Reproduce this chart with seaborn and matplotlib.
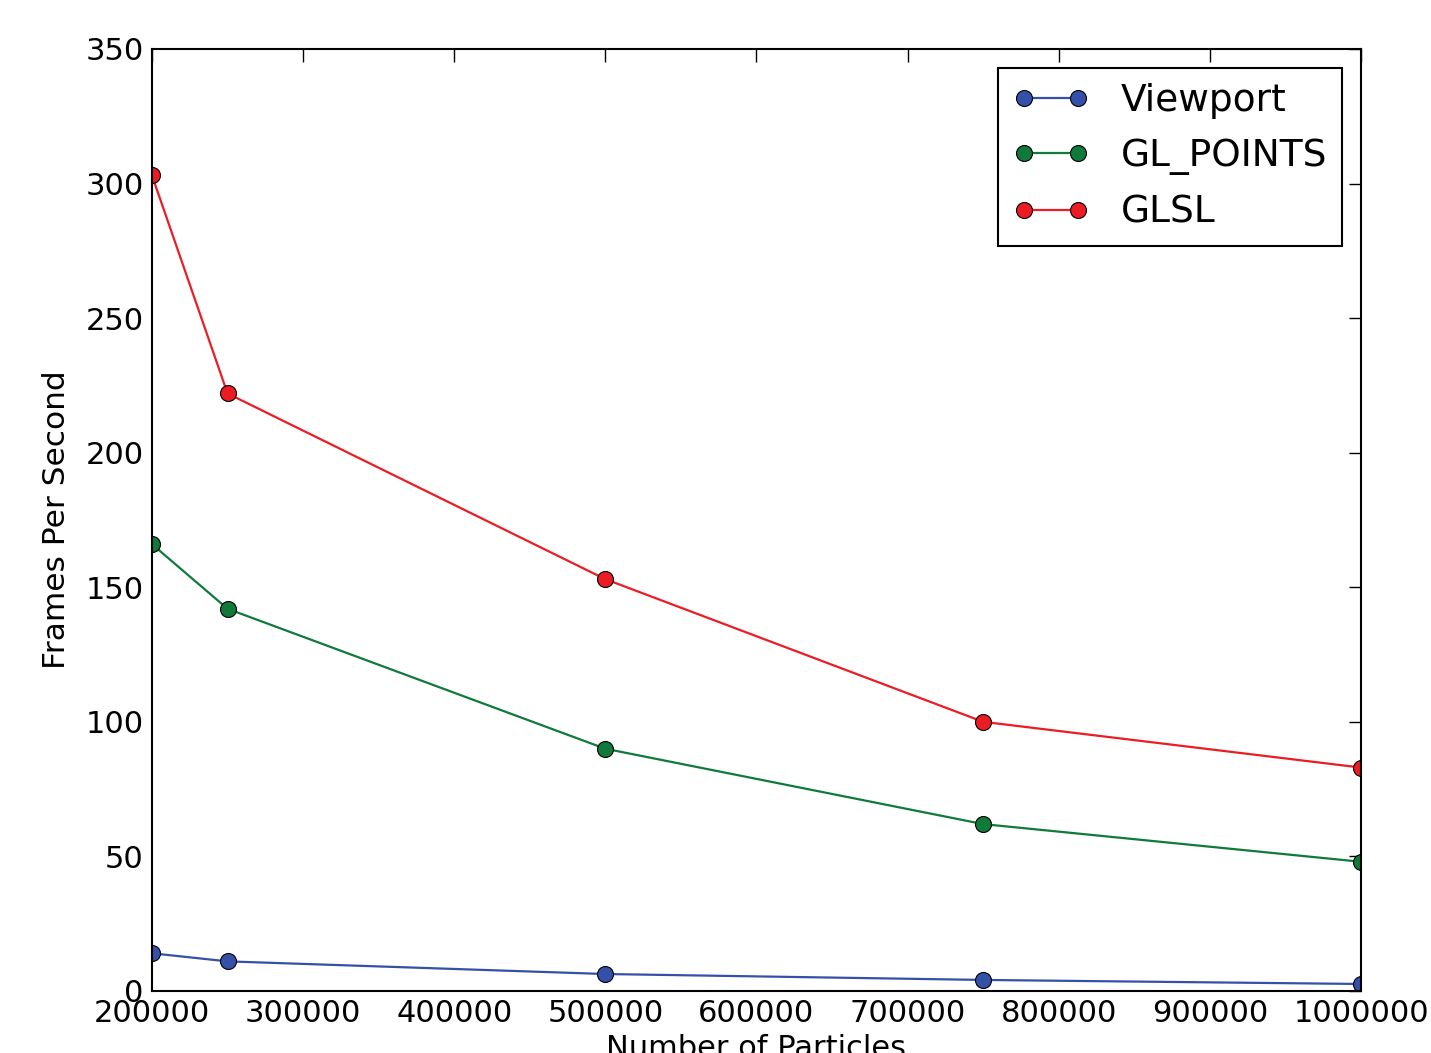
import numpy as np
import pandas as pd
import seaborn as sns
import matplotlib
matplotlib.use('Agg')
import matplotlib.pyplot as plt
from matplotlib.ticker import FormatStrFormatter

particles = [200000, 250000, 500000, 750000, 1000000]
viewport = [14, 11, 6.3, 4.1, 2.6]
gl_points = [166, 142, 90, 62, 48]
glsl = [303, 222, 153, 100, 83]

methods = ['Viewport', 'GL_POINTS', 'GLSL']
colors = ['#3550a8', '#0f7a3a', '#ec1c24']

df = pd.DataFrame({
    'particles': particles * 3,
    'fps': viewport + gl_points + glsl,
    'method': np.repeat(methods, len(particles)),
})

sns.set_style('white')
plt.rcParams['font.family'] = ['DejaVu Sans']
plt.rcParams['text.color'] = 'black'
plt.rcParams['axes.labelcolor'] = 'black'
plt.rcParams['xtick.color'] = 'black'
plt.rcParams['ytick.color'] = 'black'

fig = plt.figure(figsize=(14.31, 10.53), dpi=100)
ax = fig.add_axes([0.1062, 0.0589, 0.8449, 0.8946])

sns.lineplot(data=df, x='particles', y='fps', hue='method',
             hue_order=methods, palette=colors, marker='o',
             markersize=11.5, markeredgecolor='black', markeredgewidth=0.8,
             linewidth=1.6, ax=ax)

ax.set_xlim(200000, 1000000)
ax.set_ylim(0, 350)
ax.set_xticks(np.arange(200000, 1000001, 100000))
ax.set_yticks(np.arange(0, 351, 50))
ax.xaxis.set_major_formatter(FormatStrFormatter('%d'))
ax.set_xlabel('Number of Particles', fontsize=22)
ax.set_ylabel('Frames Per Second', fontsize=22.5, labelpad=10)
ax.tick_params(direction='in', length=9, width=1, labelsize=22,
               top=True, right=True, colors='black', pad=6)
for s in ax.spines.values():
    s.set_visible(True)
    s.set_color('black')
    s.set_linewidth(1.5)

handles, labels = ax.get_legend_handles_labels()
for h in handles:
    h.set_marker('o')
    h.set_markersize(11.5)
    h.set_markeredgecolor('black')
    h.set_markeredgewidth(0.8)
leg = ax.legend(handles, labels, loc='upper right', fontsize=27, numpoints=2,
                handlelength=2.05, handletextpad=0.83, borderaxespad=0.5,
                fancybox=False, framealpha=1, edgecolor='black',
                borderpad=0.4, labelspacing=0.52)
leg.get_frame().set_linewidth(1.5)

fig.savefig('out.png', dpi=100)
